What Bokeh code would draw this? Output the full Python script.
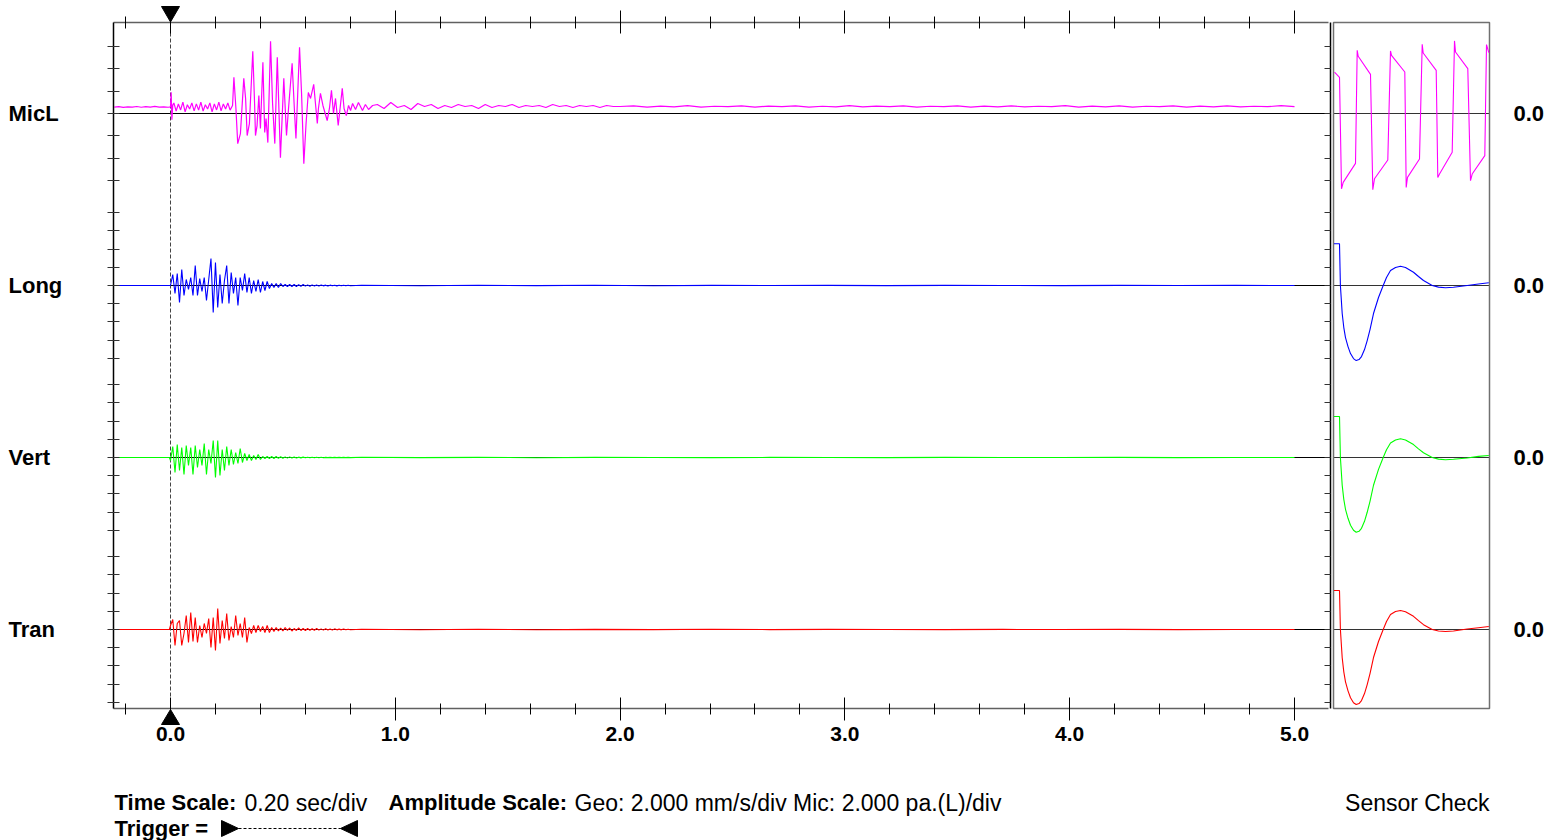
import numpy as np
from bokeh.plotting import figure
from bokeh.models import (Range1d, LinearAxis, FixedTicker, PrintfTickFormatter,
                          CustomJSTickFormatter)
from bokeh.core.properties import value
from bokeh.embed import file_html
from bokeh.resources import INLINE

# ------------------------------------------------------------------ data
channels = ["MicL", "Long", "Vert", "Tran"]
colors = ["#ff00ff", "#0000ff", "#00ff00", "#ff0000"]
time_ticks = [0.0, 1.0, 2.0, 3.0, 4.0, 5.0]
sensor_zero_labels = ["0.0", "0.0", "0.0", "0.0"]
time_scale_text = "0.20 sec/div"
amp_scale_text = "Geo: 2.000 mm/s/div Mic: 2.000 pa.(L)/div"
geo_mm_s_per_div = 2.0
mic_pa_per_div = 2.0

# MicL (Pa)
mic_pre_v = [0.58, 0.62, 0.55, 0.60, 0.57, 0.63, 0.56, 0.61, 0.58, 0.64, 0.57, 0.60, 0.56]
mic_trig_t = [0.000, 0.003, 0.006, 0.010]
mic_trig_v = [0.60, 1.90, -0.55, 0.75]
mic_noise_v = [0.95, 0.22, 0.85, 0.32, 1.02, 0.15, 0.78, 0.40, 0.95, 0.24, 0.86, 0.30, 1.02,
               0.22, 0.78, 0.40, 0.95, 0.15, 0.86, 0.32, 1.02, 0.24, 0.86, 0.40, 0.95, 0.30]
mic_burst_t = [0.276, 0.282, 0.291, 0.299, 0.311, 0.326, 0.334, 0.341, 0.351, 0.366,
               0.374, 0.378, 0.385, 0.393, 0.400, 0.411, 0.419, 0.425, 0.433, 0.445,
               0.454, 0.464, 0.475, 0.480, 0.489, 0.504, 0.516, 0.525, 0.541, 0.552,
               0.558, 0.574, 0.583, 0.593, 0.603, 0.613, 0.623, 0.637, 0.653, 0.658,
               0.667, 0.678, 0.697, 0.707, 0.716, 0.725, 0.734, 0.746, 0.764, 0.772,
               0.782, 0.792, 0.801, 0.810, 0.823, 0.836, 0.854, 0.867, 0.881, 0.899]
mic_burst_v = [0.72, 3.24, 0.45, -2.70, -1.80, 3.15, 1.35, -1.98, -0.90, 5.58,
               0.90, -1.98, -1.08, 1.62, -1.35, 4.59, -1.71, -0.45, -2.61, 6.48,
               0.90, -2.70, 5.04, 1.80, -3.96, 3.15, -1.98, 0.45, 4.50, 0.00,
               -2.25, 5.94, 1.80, -4.50, -0.90, 1.89, 1.35, 2.61, -0.90, 0.45,
               1.80, 0.72, -0.63, 0.45, 2.07, 0.00, 1.35, -1.08, 2.25, 0.45,
               -0.18, 0.72, 0.27, 0.90, 0.36, 0.99, 0.27, 0.81, 0.36, 0.72]
mic_tail1_v = [0.81, 0.45, 0.99, 0.54, 0.72, 0.36, 0.90, 0.63, 0.81, 0.45, 0.72, 0.54, 0.81,
               0.63, 0.72, 0.45, 0.81, 0.54, 0.72, 0.63, 0.81, 0.54, 0.72, 0.63, 0.72, 0.54,
               0.81, 0.63, 0.72, 0.54, 0.72, 0.63, 0.72, 0.54, 0.72, 0.63, 0.63]
mic_tail2_v = [0.68, 0.58, 0.66, 0.60, 0.70, 0.57, 0.65, 0.61, 0.69, 0.58,
               0.66, 0.62, 0.68, 0.57, 0.65, 0.60, 0.70, 0.59, 0.66, 0.61,
               0.68, 0.58, 0.65, 0.62, 0.69, 0.57, 0.66, 0.60, 0.68, 0.59,
               0.65, 0.61, 0.70, 0.58, 0.66, 0.60, 0.68, 0.57, 0.65, 0.62,
               0.69, 0.58, 0.66, 0.60, 0.68, 0.59, 0.65, 0.61, 0.70, 0.62]

# Geophones (mm/s), burst sampled every 10 ms from the trigger
long_burst = [0, 1.21, -0.88, 1.32, -1.87, 1.76, -1.10, 0.66, -0.44, 0.88,
              -1.10, 2.20, -1.10, 0.77, -0.66, 0.88, -1.65, 0.66, 2.97, -2.97,
              2.53, -2.42, 1.21, -1.98, 0.55, 2.20, -1.98, 1.43, -0.88, 0.88,
              -2.20, 0.88, -0.55, 1.32, -0.77, 0.88, -0.88, 0.55, -0.66, 0.66,
              -0.77, 0.44, -0.55, 0.44, -0.33, 0.22, -0.22, 0.22, -0.22, 0.22,
              -0.11, 0.11, -0.11, 0.11, -0.11, 0.11, -0.11, 0.09, -0.09, 0.11,
              -0.07, 0.07, -0.09, 0.07, -0.06, 0.06, -0.07, 0.06, -0.04, 0.04,
              -0.06, 0.04, -0.03, 0.03, -0.04, 0.03, -0.03, 0.03, -0.02, 0.02, -0.02]
vert_burst = [-0.33, 1.21, -1.65, 1.43, -1.43, 1.10, -1.87, 1.32, -0.88, 1.10,
              -1.87, 1.32, -1.10, 0.88, -0.88, 1.54, -1.87, 0.88, -0.66, 1.87,
              -2.20, 1.87, -1.98, 0.88, -1.43, 1.21, -0.88, 0.88, -0.77, 0.55,
              -0.66, 0.99, -0.55, 0.44, -0.33, 0.33, -0.33, 0.22, -0.22, 0.33,
              -0.22, 0.11, -0.11, 0.11, -0.11, 0.11, -0.11, 0.11, -0.09, 0.09,
              -0.09, 0.07, -0.07, 0.07, -0.06, 0.06, -0.06, 0.04, -0.04, 0.04,
              -0.03, 0.03, -0.03, 0.03, -0.02, 0.02, -0.02, 0.02, -0.02, 0.01,
              -0.01, 0.01, -0.01, 0.01, -0.01, 0.01, -0.01, 0.01, -0.01, 0.01, -0.01]
tran_burst = [0.44, 1.10, -1.76, 0.66, 0.99, -1.76, -0.44, 1.54, -1.43, 1.87,
              -1.32, 1.32, -1.43, 0.44, -0.88, 0.66, -0.44, 1.21, -1.98, 1.32,
              -2.31, 2.31, -1.54, 0.99, -0.99, 1.76, -1.21, 0.33, -0.88, 1.54,
              -0.66, 0.66, -0.88, 1.32, -1.43, 0.22, -0.44, 0.44, -0.33, 0.44,
              -0.22, 0.33, -0.33, 0.44, -0.33, 0.22, -0.22, 0.22, -0.17, 0.17,
              -0.17, 0.22, -0.11, 0.17, -0.17, 0.11, -0.11, 0.17, -0.11, 0.11,
              -0.11, 0.11, -0.09, 0.09, -0.09, 0.11, -0.07, 0.07, -0.07, 0.09,
              -0.06, 0.06, -0.06, 0.07, -0.04, 0.04, -0.04, 0.06, -0.03, 0.03, -0.03]
long_tail = [0.03, -0.02, 0.02, -0.01, 0.02, -0.02, 0.01, 0.0, 0.01, -0.01, 0.01, 0.0, -0.01, 0.01, 0.0, 0.01, 0.0]
vert_tail = [0.02, -0.01, 0.01, -0.02, 0.01, 0.0, -0.01, 0.01, 0.0, -0.01, 0.01, 0.0, 0.0, 0.01, -0.01, 0.0, 0.0]
tran_tail = [0.03, -0.02, 0.02, -0.02, 0.01, -0.01, 0.02, -0.01, 0.01, 0.0, -0.01, 0.01, 0.0, 0.01, -0.01, 0.0, 0.0]

# Sensor check (ms)
sens_geo_t = [0.5, 6.0, 6.9, 8.7, 10.3, 12, 14.5, 17, 20, 22.7, 25.5, 28, 31, 33.7, 36.5, 40, 45,
              49.7, 53, 57, 62, 67, 72, 80, 85, 90, 98.7, 105, 112, 120, 133.7, 145, 155.3]
sens_long = [4.59, 4.59, 0, -3.08, -4.62, -5.72, -6.71, -7.48, -8.03, -8.25, -8.14, -7.81, -7.04,
             -6.05, -4.84, -3.08, -1.32, 0, 0.88, 1.65, 1.98, 2.12, 1.98, 1.46, 0.99, 0.55, 0,
             -0.18, -0.25, -0.20, 0, 0.17, 0.30]
sens_vert = [4.51, 4.51, 0, -3.05, -4.60, -5.69, -6.68, -7.45, -8.00, -8.22, -8.11, -7.78, -7.01,
             -6.02, -4.81, -3.05, -1.30, 0, 0.86, 1.60, 1.93, 2.06, 1.93, 1.42, 0.95, 0.52, 0,
             -0.18, -0.25, -0.20, -0.05, 0.12, 0.22]
sens_tran = [4.29, 4.29, 0, -3.10, -4.65, -5.75, -6.74, -7.50, -8.05, -8.25, -8.14, -7.81, -7.04,
             -6.05, -4.84, -3.08, -1.32, 0, 0.88, 1.65, 1.98, 2.09, 1.95, 1.45, 0.97, 0.53, 0,
             -0.17, -0.22, -0.16, 0.05, 0.20, 0.33]
sens_mic_t = [1.0, 6.0, 8.0, 9.7, 22.0, 23.7, 24.7, 37.0, 39.3, 41.0, 54.3, 57.0, 58.0, 71.3, 72.7,
              74.0, 86.0, 88.7, 89.7, 102.7, 104.3, 106.0, 118.7, 121.0, 122.0, 134.3, 137.0,
              138.7, 151.3, 153.0, 155.3]
sens_mic = [3.72, 3.24, -6.75, -6.18, -4.47, 5.67, 5.13, 3.51, -6.84, -5.85, -4.17, 5.61, 5.22,
            3.72, -6.63, -5.73, -4.08, 6.21, 5.43, 3.87, -5.73, -5.43, -3.48, 6.51, 5.52, 4.02,
            -6.03, -5.43, -3.78, 6.18, 5.46]

# ------------------------------------------------------------------ layout constants
FONT = "Liberation Sans"
W, H = 1546, 840
PLOT_L, PLOT_T, PLOT_W, PLOT_H = 113, 22, 1217, 686   # waveform area in page px
PX_PER_S = 224.8
X0 = -0.2536                                          # time at left edge of waveform area
X1 = X0 + PLOT_W / PX_PER_S
XA = X0 - PLOT_L / PX_PER_S                           # time at canvas left
XB = XA + W / PX_PER_S
YB = PLOT_T + PLOT_H                                  # y data: px above waveform bottom
SENS_L, SENS_W = 1333, 156                            # sensor panel (1 ms = 1 px)
BASE = [595, 423, 251, 79]                            # channel zero lines
MIC_DIV_PX, GEO_DIV_PX = 22.3, 18.2
mic_k = MIC_DIV_PX / mic_pa_per_div
geo_k = GEO_DIV_PX / geo_mm_s_per_div

def tx(px):        # page x -> time
    return XA + px / PX_PER_S

def ty(py):        # page y -> y data
    return YB - py

p = figure(width=W, height=H, min_border=0,
           x_range=Range1d(XA, XB), y_range=Range1d(YB - H, YB),
           x_axis_location=None, y_axis_location=None,
           toolbar_location=None, output_backend="svg",
           outline_line_color=None, background_fill_color="white", border_fill_color="white")
p.extra_x_ranges = {"sensor": Range1d(-SENS_L, W - SENS_L)}
p.xgrid.grid_line_color = None
p.ygrid.grid_line_color = None

# ------------------------------------------------------------------ axes
minor = [round(i * 0.2, 1) for i in range(-1, 25) if i % 5 != 0]
empty_fmt = CustomJSTickFormatter(code="return '';")

top_ax = LinearAxis(fixed_location=PLOT_H, bounds=(X0, X1 - 0.01),
                    ticker=FixedTicker(ticks=time_ticks, minor_ticks=minor),
                    formatter=empty_fmt, major_label_text_font_size="0px", major_label_standoff=0,
                    major_tick_in=11, major_tick_out=12, minor_tick_in=6, minor_tick_out=6,
                    axis_line_color="#606060", axis_line_width=1.5,
                    major_tick_line_color="black", minor_tick_line_color="black")
p.add_layout(top_ax, "above")

bot_ax = LinearAxis(fixed_location=0, bounds=(X0, X1 - 0.01),
                    ticker=FixedTicker(ticks=time_ticks, minor_ticks=minor),
                    formatter=PrintfTickFormatter(format="%.1f"),
                    major_label_text_font=FONT, major_label_text_font_style="bold",
                    major_label_text_font_size="21px", major_label_text_color="black",
                    major_label_standoff=6,
                    major_tick_in=11, major_tick_out=12, minor_tick_in=5, minor_tick_out=6,
                    axis_line_color="#606060", axis_line_width=1.5,
                    major_tick_line_color="black", minor_tick_line_color="black")
p.add_layout(bot_ax, "below")

yt = []
for i, b in enumerate(BASE):
    n, d = (3, MIC_DIV_PX) if i == 0 else (4, GEO_DIV_PX)
    yt += [b + k * d for k in range(-n, n + 1)]

left_ax = LinearAxis(fixed_location=X0, bounds=(0, PLOT_H),
                     ticker=FixedTicker(ticks=yt, minor_ticks=[]), formatter=empty_fmt,
                     major_label_text_font_size="0px", major_label_standoff=0,
                     major_tick_in=6, major_tick_out=6, axis_line_color="black",
                     axis_line_width=1.5, major_tick_line_color="#333333",
                     minor_tick_line_color=None)
p.add_layout(left_ax, "left")
right_ax = LinearAxis(fixed_location=X1, bounds=(0, PLOT_H),
                      ticker=FixedTicker(ticks=yt, minor_ticks=[]), formatter=empty_fmt,
                      major_label_text_font_size="0px", major_label_standoff=0,
                      major_tick_in=6, major_tick_out=0, axis_line_color="black",
                      axis_line_width=1.5, major_tick_line_color="#333333",
                      minor_tick_line_color=None)
p.add_layout(right_ax, "right")

# ------------------------------------------------------------------ zero lines & trigger line
p.segment(x0=[X0] * 4, x1=[X1] * 4, y0=BASE, y1=BASE, line_color="black", line_width=1)
p.segment(x0=[0] * 4, x1=[SENS_W] * 4, y0=BASE, y1=BASE, line_color="#333333", line_width=1,
          x_range_name="sensor")
p.segment(x0=[0], x1=[0], y0=[0], y1=[PLOT_H], line_color="#444444", line_width=1,
          line_dash="4 2")

# ------------------------------------------------------------------ waveforms
mic_t = (list(np.linspace(-0.25, -0.01, len(mic_pre_v))) + mic_trig_t +
         list(np.linspace(0.015, 0.265, len(mic_noise_v))) + mic_burst_t +
         list(np.linspace(0.92, 2.00, len(mic_tail1_v))) +
         list(np.linspace(2.06, 5.00, len(mic_tail2_v))))
mic_v = mic_pre_v + mic_trig_v + mic_noise_v + mic_burst_v + mic_tail1_v + mic_tail2_v
p.line(mic_t, [BASE[0] + v * mic_k for v in mic_v], line_color=colors[0], line_width=1.2)

for i, (burst, tail) in enumerate([(long_burst, long_tail), (vert_burst, vert_tail),
                                   (tran_burst, tran_tail)], start=1):
    t = [-0.25, -0.005] + [k * 0.01 for k in range(len(burst))] + list(np.linspace(0.85, 5.0, len(tail)))
    v = [0.0, 0.0] + burst + tail
    p.line(t, [BASE[i] + x * geo_k for x in v], line_color=colors[i], line_width=1.1)

# ------------------------------------------------------------------ sensor check panel
p.quad(left=[0], right=[SENS_W], bottom=[0], top=[PLOT_H], fill_color=None,
       line_color="#707070", line_width=1.5, x_range_name="sensor")
p.line(sens_mic_t, [BASE[0] + v * mic_k for v in sens_mic], line_color=colors[0],
       line_width=1.1, x_range_name="sensor")
for i, s in enumerate([sens_long, sens_vert, sens_tran], start=1):
    p.line(sens_geo_t, [BASE[i] + v * geo_k for v in s], line_color=colors[i], line_width=1.1,
           x_range_name="sensor")

# ------------------------------------------------------------------ trigger markers
tri = 9 / PX_PER_S
p.patches(xs=[[-tri, tri, 0], [-tri, tri, 0]],
          ys=[[ty(6), ty(6), ty(21.5)], [ty(724), ty(724), ty(709)]],
          fill_color="black", line_color="black", line_width=1)

# ------------------------------------------------------------------ texts
def txt(x, y, s, style="bold", size="22px", align="left", **kw):
    p.text(x=x, y=y, text=s, text_font=value(FONT), text_font_style=style,
           text_font_size=value(size), text_align=align, text_baseline="middle",
           text_color="black", **kw)

txt([tx(8)] * 4, BASE, channels)
txt([180] * 4, BASE, sensor_zero_labels, x_range_name="sensor")
txt([tx(114), tx(388)], [ty(802)] * 2, ["Time Scale:", "Amplitude Scale:"])
txt([tx(244), tx(574)], [ty(802)] * 2, [time_scale_text, amp_scale_text], style="normal",
    size="23px")
txt([SENS_W], [ty(802)], ["Sensor Check"], style="normal", size="23px", align="right",
    x_range_name="sensor")
txt([tx(114)], [ty(828)], ["Trigger ="])

# trigger symbol: ▶- - - - -◀
p.patches(xs=[[tx(221), tx(221), tx(238)], [tx(357), tx(357), tx(340)]],
          ys=[[ty(820), ty(836), ty(828)], [ty(820), ty(836), ty(828)]],
          fill_color="black", line_color="black", line_width=1)
p.segment(x0=[tx(238)], x1=[tx(340)], y0=[ty(828)], y1=[ty(828)], line_color="black",
          line_width=1, line_dash="3 2")

open("out.html", "w").write(file_html(p, INLINE))
